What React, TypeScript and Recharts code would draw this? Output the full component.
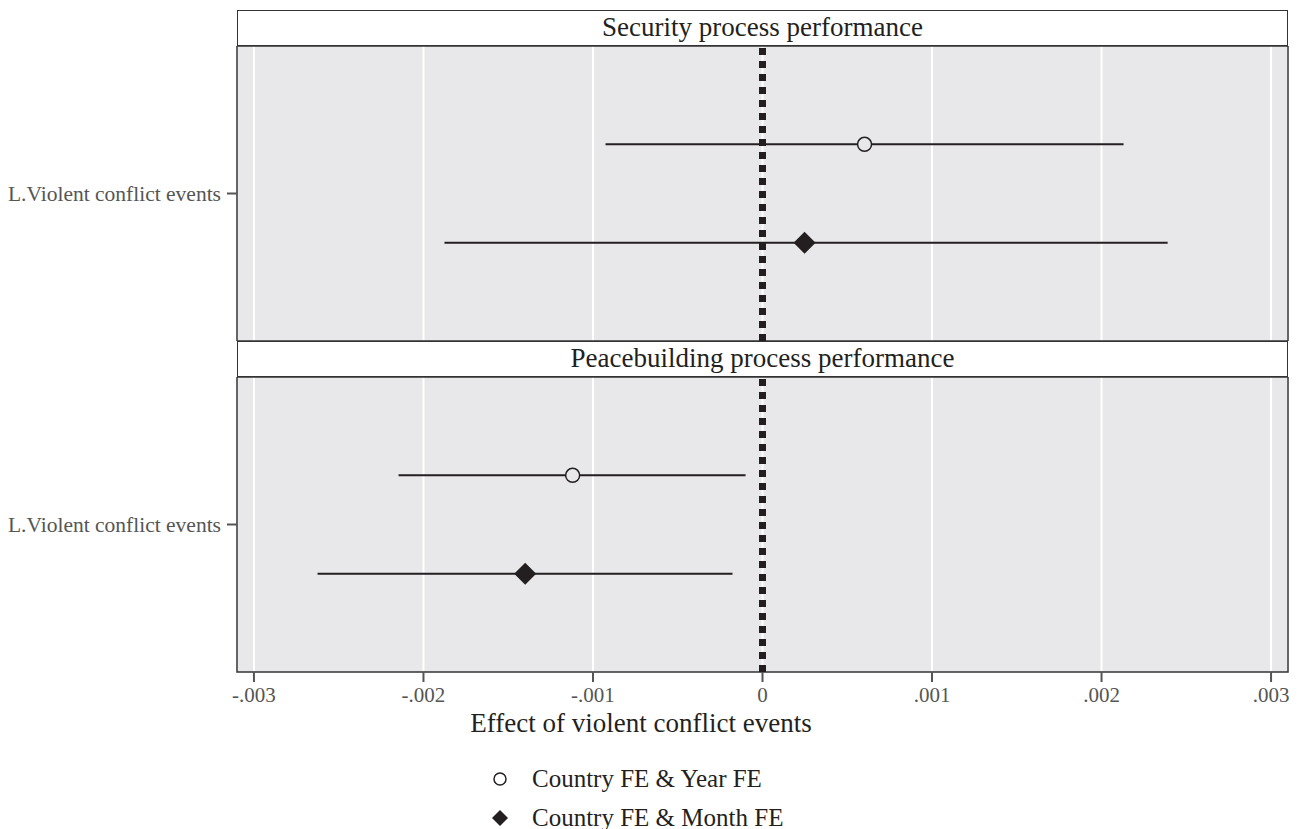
import {
  ScatterChart, Scatter, XAxis, YAxis, CartesianGrid, ReferenceLine, ReferenceArea, ErrorBar,
} from 'recharts'

const panels = ['Security process performance', 'Peacebuilding process performance']
const models = ['Country FE & Year FE', 'Country FE & Month FE']
const rowLabel = 'L.Violent conflict events'

// point estimates and 95% CI per panel, per model
const estimates = [[0.000602, 0.000248], [-0.00112, -0.0014]]
const lower = [[-0.000926, -0.001876], [-0.002147, -0.002625]]
const upper = [[0.00213, 0.00239], [-0.0001, -0.000177]]

const xTicks = [-0.003, -0.002, -0.001, 0, 0.001, 0.002, 0.003]
const X_DOMAIN = [-0.0031, 0.0031]
const Y_DOMAIN = [0, 3]
const modelRow = [2, 1]

const FONT = '"Liberation Serif", "Times New Roman", serif'
const INK = '#231f20'
const BG = '#e8e8ea'

const fmt = (v: number) => {
  if (Math.abs(v) < 1e-12) return '0'
  return (v < 0 ? '-' : '') + Math.abs(v).toFixed(3).replace(/^0/, '')
}

const Circle = (p: any) => (
  <circle cx={p.cx} cy={p.cy} r={7} fill={BG} stroke={INK} strokeWidth={1.5} />
)
const Diamond = (p: any) => (
  <path d={`M${p.cx},${p.cy - 11}L${p.cx + 11},${p.cy}L${p.cx},${p.cy + 11}L${p.cx - 11},${p.cy}Z`} fill={INK} />
)
const shapes = [Circle, Diamond]

function rowsFor(panel: number, model: number) {
  const est = estimates[panel][model]
  return [{ x: est, y: modelRow[model], err: [est - lower[panel][model], upper[panel][model] - est] }]
}

function Panel({ index, withAxis }: { index: number; withAxis: boolean }) {
  const plotH = 295
  const axisH = withAxis ? 40 : 0
  return (
    <ScatterChart width={1299} height={plotH + axisH} margin={{ top: 0, right: 11, bottom: 0, left: 8 }}>
      <CartesianGrid horizontal={false} stroke="#fff" strokeWidth={2} fill={BG} />
      <XAxis
        type="number" dataKey="x" domain={X_DOMAIN} ticks={xTicks} allowDataOverflow
        hide={!withAxis} height={axisH} tickFormatter={fmt} tickSize={10} tickMargin={5}
        axisLine={false} tickLine={{ stroke: '#555', strokeWidth: 2 }}
        tick={{ fill: '#555', fontSize: 21, fontFamily: FONT }}
      />
      <YAxis
        type="number" dataKey="y" domain={Y_DOMAIN} ticks={[1.5]} width={229}
        tickFormatter={() => rowLabel} axisLine={false} tickSize={10} tickMargin={6}
        tickLine={{ stroke: '#555', strokeWidth: 2 }}
        tick={{ fill: '#555', fontSize: 21.5, fontFamily: FONT }}
      />
      <ReferenceArea x1={X_DOMAIN[0]} x2={X_DOMAIN[1]} y1={Y_DOMAIN[0]} y2={Y_DOMAIN[1]}
        fill="none" fillOpacity={0} stroke="#333" strokeWidth={1.5} />
      <ReferenceLine x={0} stroke={INK} strokeWidth={7} strokeDasharray="7 6" />
      {models.map((m, i) => (
        <Scatter key={m} name={m} data={rowsFor(index, i)} shape={shapes[i]} isAnimationActive={false}>
          <ErrorBar dataKey="err" direction="x" width={0} stroke={INK} strokeWidth={2} />
        </Scatter>
      ))}
    </ScatterChart>
  )
}

const headerStyle = (top: number): React.CSSProperties => ({
  position: 'absolute', left: 237, top, width: 1051, height: 36, boxSizing: 'border-box',
  border: '1.5px solid #333', background: '#fff', fontFamily: FONT, fontSize: 27,
  color: INK, textAlign: 'center', lineHeight: '32px',
})

export default function App() {
  return (
    <div style={{ position: 'absolute', left: 0, top: 0, width: 1299, height: 829, background: '#fff', fontFamily: FONT, overflow: 'hidden' }}>
      <div style={{ position: 'absolute', left: 0, top: 46 }}>
        <Panel index={0} withAxis={false} />
      </div>
      <div style={{ position: 'absolute', left: 0, top: 377 }}>
        <Panel index={1} withAxis={true} />
      </div>
      <div style={headerStyle(10)}>{panels[0]}</div>
      <div style={headerStyle(341)}>{panels[1]}</div>
      <div style={{ position: 'absolute', left: 0, top: 707, width: 1282, textAlign: 'center', fontSize: 27, lineHeight: '32px', color: INK }}>
        Effect of violent conflict events
      </div>
      <div style={{ position: 'absolute', left: 488, top: 759, fontSize: 25, lineHeight: '30px', color: INK }}>
        {models.map((m, i) => (
          <div key={m} style={{ display: 'flex', alignItems: 'center', height: 39 }}>
            <svg width={24} height={24} style={{ marginRight: 20 }}>
              {i === 0
                ? <circle cx={12} cy={12} r={6} fill="#fff" stroke={INK} strokeWidth={1.5} />
                : <path d="M12,4L20,12L12,20L4,12Z" fill={INK} />}
            </svg>
            <span>{m}</span>
          </div>
        ))}
      </div>
    </div>
  )
}
